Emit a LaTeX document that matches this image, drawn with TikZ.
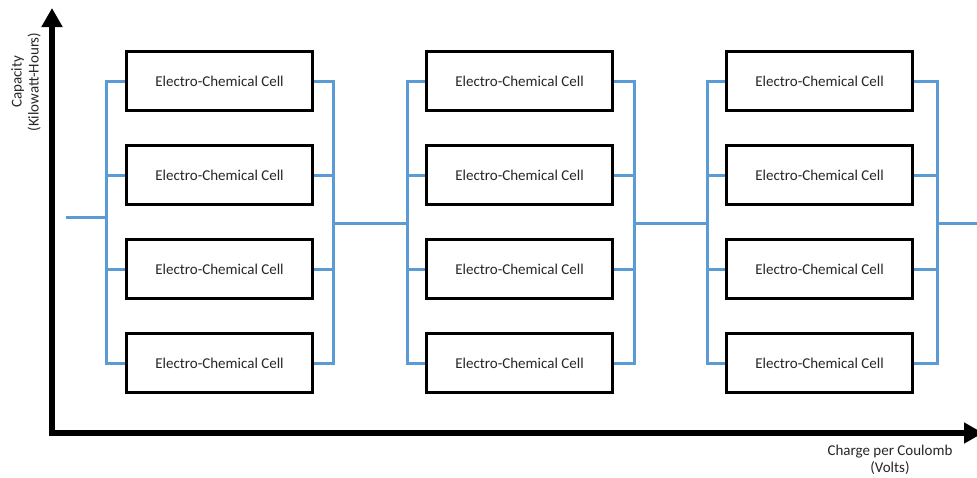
\documentclass[tikz,border=0pt]{standalone}
\usepackage{fontspec}
\setmainfont{Carlito}
\usetikzlibrary{arrows.meta}
\definecolor{wireblue}{HTML}{5B9BD5}
\tikzset{
  cell/.style={draw=black, line width=3pt, minimum width=186pt, minimum height=59pt,
    inner sep=0pt, font=\fontsize{15pt}{18pt}\selectfont, text=black!85},
  wire/.style={draw=wireblue, line width=3pt},
  axis/.style={draw=black, line width=5.5pt, -{Triangle[length=19pt,width=20pt]}},
  axislabel/.style={font=\fontsize{15pt}{17pt}\selectfont, text=black!85, align=center, inner sep=0pt}
}
\begin{document}
\begin{tikzpicture}[x=1pt,y=-1pt]
\useasboundingbox (0,0) rectangle (977,477);

% axes
\coordinate (origin) at (52,433);
\coordinate (ytip) at (52,8);
\coordinate (xtip) at (983,433);
\draw[axis] (52,436) -- (ytip);
\draw[axis] (49,433) -- (xtip);
\node[axislabel, rotate=90] (ylab) at (26,82) {Capacity\\(Kilowatt-Hours)};
\node[axislabel] (xlab) at (890,460) {Charge per Coulomb\\(Volts)};

% three banks of four cells each
\foreach \g/\cx in {1/219.5, 2/519.5, 3/819.5} {
  \foreach \r/\cy in {1/81, 2/175, 3/269, 4/363} {
    \node[cell] (g\g r\r) at (\cx,\cy) {Electro-Chemical Cell};
  }
}

% bus bar positions of each bank
\coordinate (b1l) at (106,0);  \coordinate (b1r) at (333,0);
\coordinate (b2l) at (407,0);  \coordinate (b2r) at (634,0);
\coordinate (b3l) at (707,0);  \coordinate (b3r) at (937,0);

% parallel wiring inside each bank
\foreach \g in {1,2,3} {
  \draw[wire] (g\g r1.west) -- (g\g r1.west -| b\g l) -- (g\g r4.west -| b\g l) -- (g\g r4.west);
  \draw[wire] (g\g r1.east) -- (g\g r1.east -| b\g r) -- (g\g r4.east -| b\g r) -- (g\g r4.east);
  \foreach \r in {2,3} {
    \draw[wire] (g\g r\r.west) -- (g\g r\r.west -| b\g l);
    \draw[wire] (g\g r\r.east) -- (g\g r\r.east -| b\g r);
  }
}

% series links between banks
\coordinate (in) at (66,217);
\coordinate (out) at (977,223);
\coordinate (link) at (0,223);
\draw[wire] (in) -- (in -| b1l);
\draw[wire] (link -| b1r) -- (link -| b2l);
\draw[wire] (link -| b2r) -- (link -| b3l);
\draw[wire] (link -| b3r) -- (out);
\end{tikzpicture}
\end{document}
